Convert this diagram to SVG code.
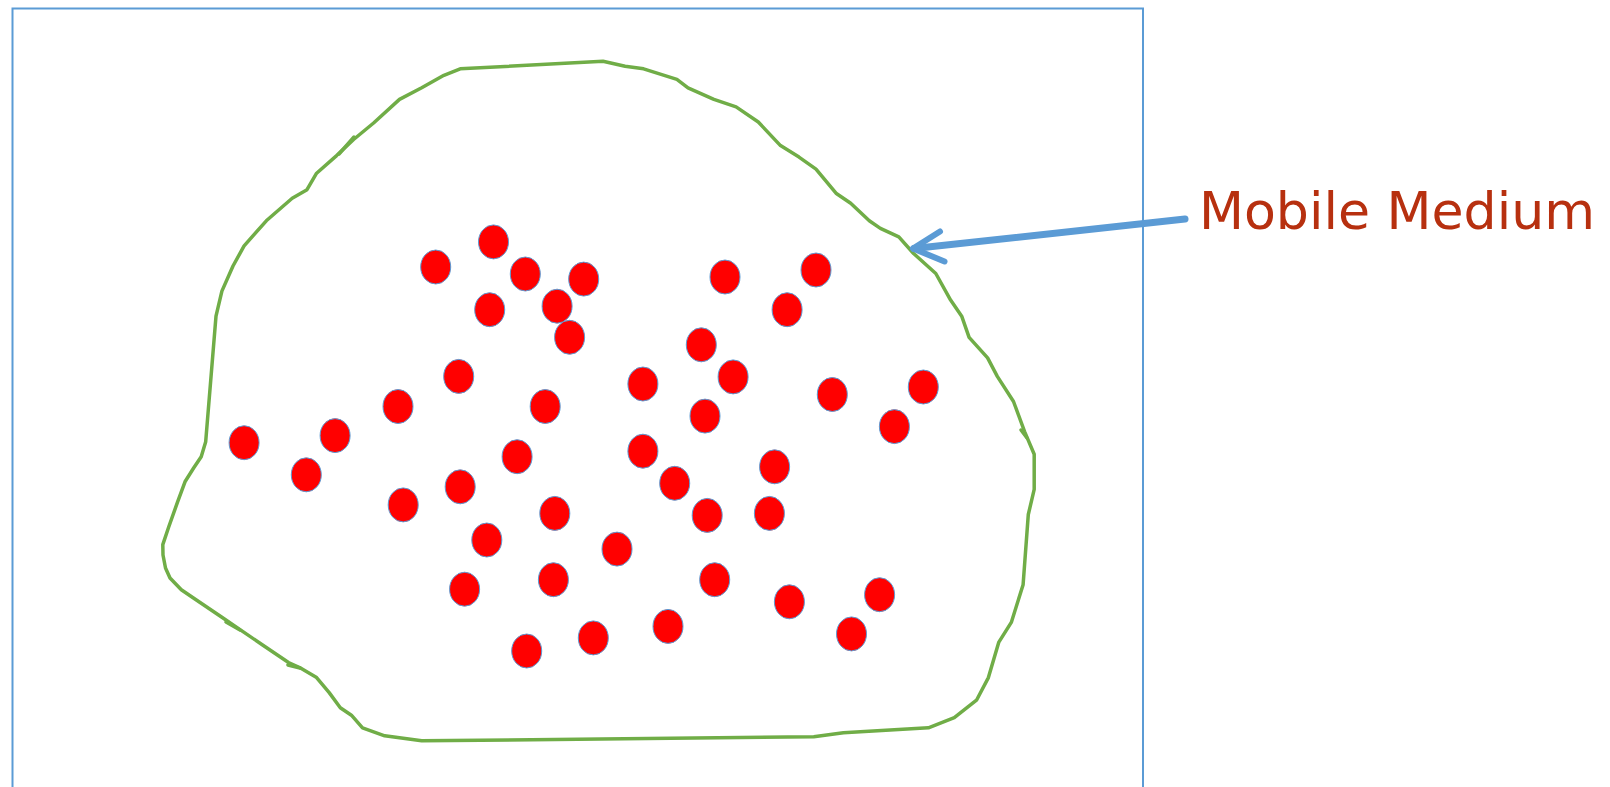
<svg xmlns="http://www.w3.org/2000/svg" width="1610" height="787" viewBox="0 0 1610 787">
<style>
.frame{fill:none;stroke:#5B9BD5;stroke-width:2}
.medium{fill:none;stroke:#70AD47;stroke-width:3.5;stroke-linejoin:round;stroke-linecap:round}
.dot{fill:#FF0000;stroke:#5B9BD5;stroke-width:1}
.arrow{fill:none;stroke:#5B9BD5;stroke-linecap:round;stroke-linejoin:round}
.label{font-family:"DejaVu Sans","Liberation Sans",sans-serif;font-size:51px;fill:#B7300F}
</style>
<rect width="1610" height="787" fill="#FFFFFF"/>
<rect class="frame" x="12.5" y="8.5" width="1130.5" height="800"/>
<g id="mobile-medium">
<path class="medium" d="M460.2,68.8 L603,61.2 L625.1,66.3 L643.6,68.8 L676.9,79.3 L688,87.8 L713.9,99.4 L736.1,106.9 L758.3,122 L780.5,145.6 L799,157.1 L816,169.1 L836,193.2 L850.7,203.3 L869.3,220.8 L880.4,228.4 L898.8,236.9 L913.6,253.5 L935.8,273.5 L950.6,300.1 L961.7,316.2 L969.1,337.3 L987.6,357.9 L997.3,376.4 L1013.5,401.5 L1024.6,431.6 L1034.2,454.2 L1034.2,489.4 L1028.3,514.5 L1023.1,584.7 L1011.3,622.4 L998.7,642.4 L988.4,677.6 L976.5,700.2 L954.3,717.7 L928.4,727.8 L843.4,732.8 L813.8,736.8 L421.7,740.8 L384.7,735.8 L362.5,727.8 L351.4,715.2 L340.3,707.7 L329.2,692.6 L316.6,677.6 L299.6,667.5 L288.5,662.5 L262.6,645 L244.1,632.4 L221.9,617.3 L199.7,602.3 L181.3,589.7 L170,578 L165.5,568 L163,555 L162.8,544.6 L168.7,527 L177.6,501.9 L185,481.8 L193.8,467.8 L201.2,456.7 L205.7,441.7 L216,316.2 L221.9,291.1 L233,266 L244.1,245.9 L266.3,220.8 L292.2,198.2 L307,189.7 L316.6,173.2 L336.6,155.6 L353.6,139.5 L373.6,123 L399.5,99.4 L421.7,87.8 L443.9,75.3 Z"/>
<path class="medium" d="M339,154 L354,137"/>
<path class="medium" d="M1021,430 L1027,438"/>
<path class="medium" d="M226,622 L240,630"/>
<path class="medium" d="M288,665 L300,668"/>
</g>
<g id="particles">
<ellipse class="dot" cx="435.7" cy="267" rx="15" ry="17"/>
<ellipse class="dot" cx="493.5" cy="241.9" rx="15" ry="17"/>
<ellipse class="dot" cx="525.3" cy="274" rx="15" ry="17"/>
<ellipse class="dot" cx="583.7" cy="279.1" rx="15" ry="17"/>
<ellipse class="dot" cx="725" cy="277" rx="15" ry="17"/>
<ellipse class="dot" cx="816" cy="270" rx="15" ry="17"/>
<ellipse class="dot" cx="489.7" cy="309.7" rx="15" ry="17"/>
<ellipse class="dot" cx="557.1" cy="306.2" rx="15" ry="17"/>
<ellipse class="dot" cx="787.1" cy="309.7" rx="15" ry="17"/>
<ellipse class="dot" cx="569.6" cy="337.3" rx="15" ry="17"/>
<ellipse class="dot" cx="701.3" cy="344.8" rx="15" ry="17"/>
<ellipse class="dot" cx="458.7" cy="376.4" rx="15" ry="17"/>
<ellipse class="dot" cx="642.9" cy="384" rx="15" ry="17"/>
<ellipse class="dot" cx="733.1" cy="376.9" rx="15" ry="17"/>
<ellipse class="dot" cx="832.3" cy="394.5" rx="15" ry="17"/>
<ellipse class="dot" cx="923.3" cy="387" rx="15" ry="17"/>
<ellipse class="dot" cx="398" cy="406.5" rx="15" ry="17"/>
<ellipse class="dot" cx="545.2" cy="406.5" rx="15" ry="17"/>
<ellipse class="dot" cx="705" cy="416.1" rx="15" ry="17"/>
<ellipse class="dot" cx="894.4" cy="426.6" rx="15" ry="17"/>
<ellipse class="dot" cx="244.1" cy="442.7" rx="15" ry="17"/>
<ellipse class="dot" cx="335.1" cy="435.6" rx="15" ry="17"/>
<ellipse class="dot" cx="306.3" cy="474.8" rx="15" ry="17"/>
<ellipse class="dot" cx="517.1" cy="456.7" rx="15" ry="17"/>
<ellipse class="dot" cx="642.9" cy="451.2" rx="15" ry="17"/>
<ellipse class="dot" cx="674.7" cy="483.3" rx="15" ry="17"/>
<ellipse class="dot" cx="774.6" cy="466.8" rx="15" ry="17"/>
<ellipse class="dot" cx="460.2" cy="486.8" rx="15" ry="17"/>
<ellipse class="dot" cx="403.2" cy="504.9" rx="15" ry="17"/>
<ellipse class="dot" cx="554.8" cy="513.4" rx="15" ry="17"/>
<ellipse class="dot" cx="707.2" cy="515.4" rx="15" ry="17"/>
<ellipse class="dot" cx="769.4" cy="513.4" rx="15" ry="17"/>
<ellipse class="dot" cx="486.8" cy="540" rx="15" ry="17"/>
<ellipse class="dot" cx="617" cy="549.1" rx="15" ry="17"/>
<ellipse class="dot" cx="464.6" cy="589.2" rx="15" ry="17"/>
<ellipse class="dot" cx="553.4" cy="579.7" rx="15" ry="17"/>
<ellipse class="dot" cx="714.7" cy="579.7" rx="15" ry="17"/>
<ellipse class="dot" cx="789.4" cy="601.8" rx="15" ry="17"/>
<ellipse class="dot" cx="879.6" cy="594.7" rx="15" ry="17"/>
<ellipse class="dot" cx="851.5" cy="633.9" rx="15" ry="17"/>
<ellipse class="dot" cx="668" cy="626.4" rx="15" ry="17"/>
<ellipse class="dot" cx="593.3" cy="637.9" rx="15" ry="17"/>
<ellipse class="dot" cx="526.7" cy="651" rx="15" ry="17"/>
</g>
<g id="connectors">
<path class="arrow" stroke-width="7" d="M1185,219 L914,248.5"/>
<path class="arrow" stroke-width="6" d="M940,231.5 L913,248.5 L944.5,261.5"/>
</g>
<g id="label">
<text class="label" x="1199" y="229" textLength="396" lengthAdjust="spacingAndGlyphs">Mobile Medium</text>
</g>
</svg>
